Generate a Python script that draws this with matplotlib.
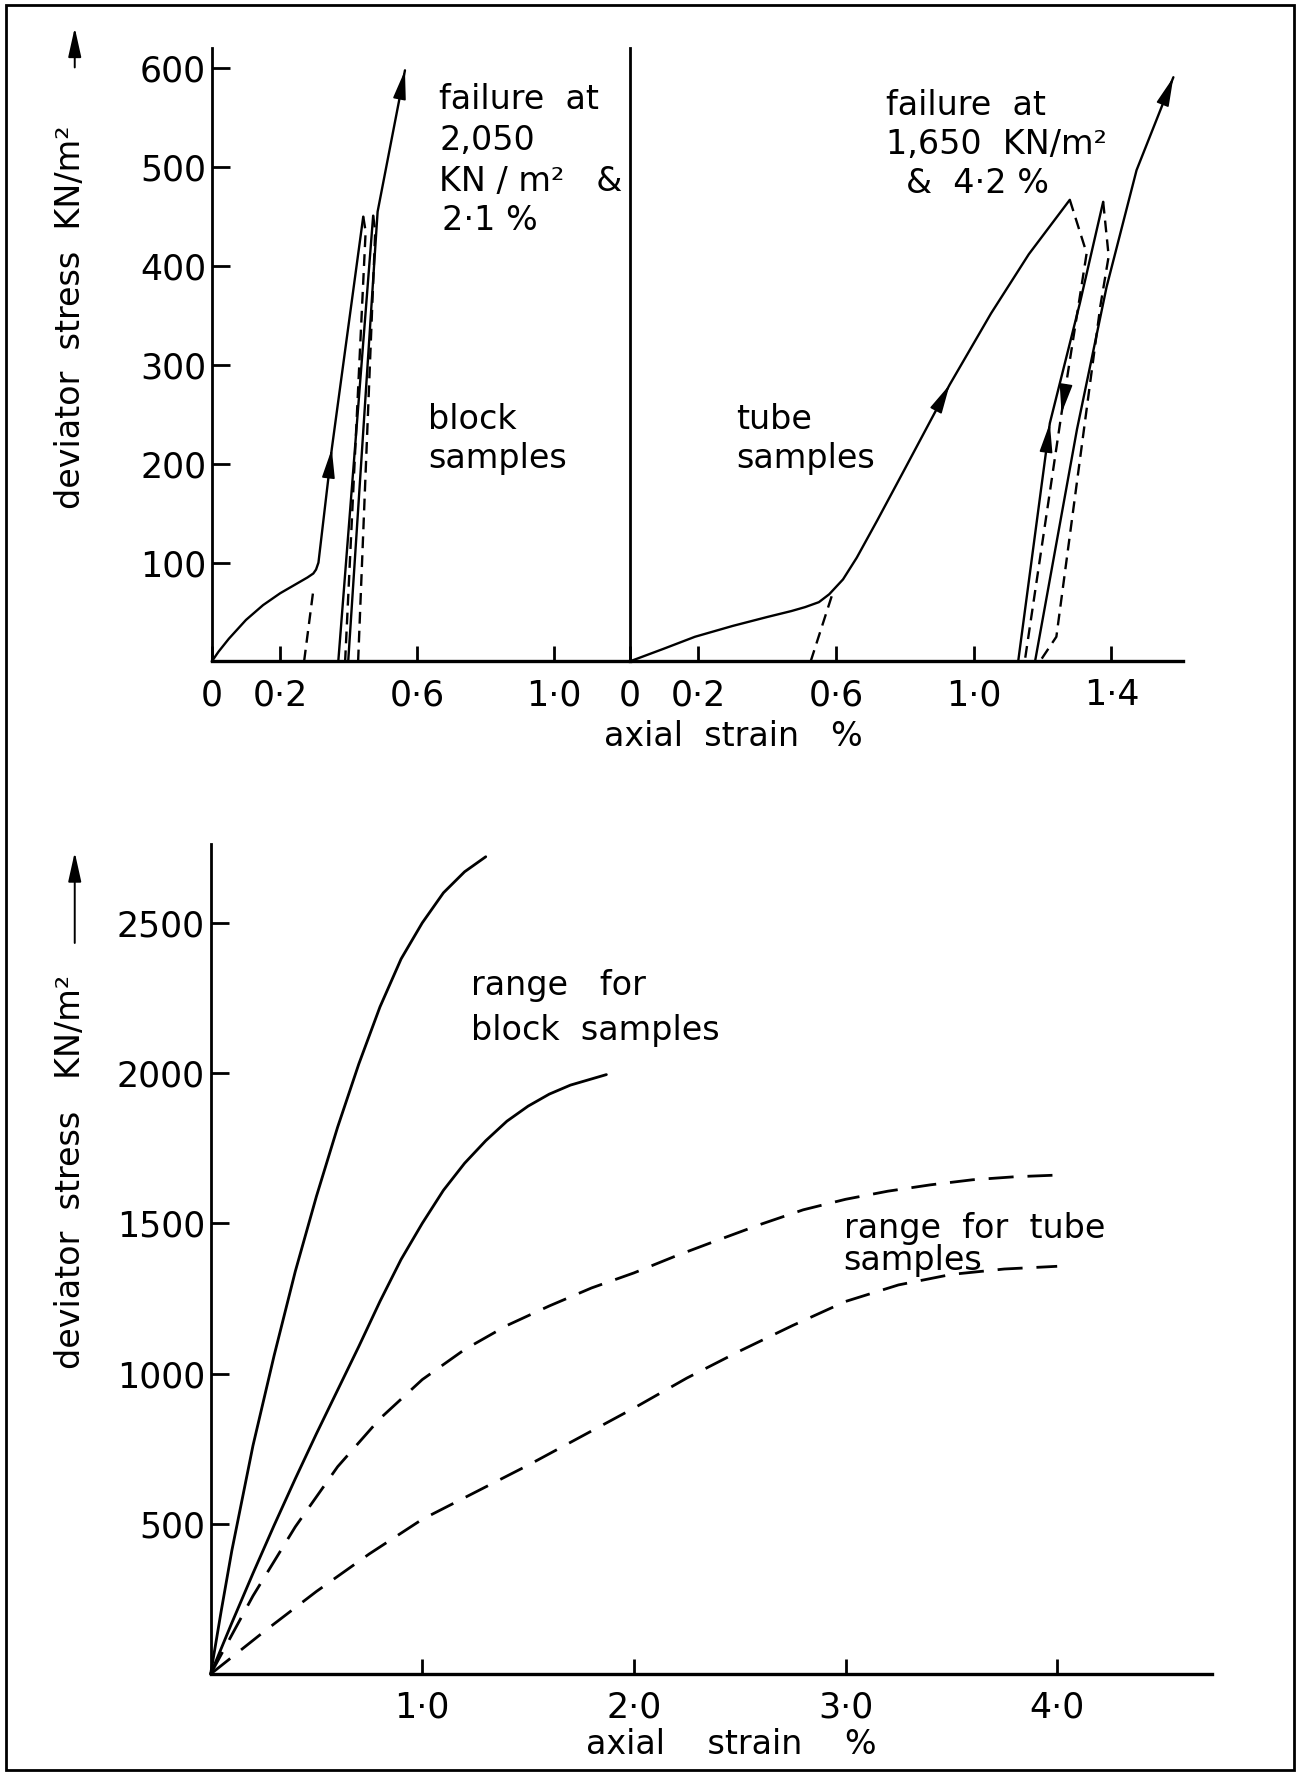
import matplotlib
matplotlib.use("Agg")
import matplotlib.pyplot as plt
from matplotlib.patches import Rectangle, FancyArrowPatch

plt.rcParams['font.family'] = ['DejaVu Sans']

# ---------------- data ----------------
# top-left panel: block samples (axial strain %, deviator stress kN/m2)
blk_load1_x = [0.0, 0.02, 0.05, 0.10, 0.15, 0.20, 0.25, 0.28, 0.297, 0.305, 0.312, 0.351, 0.443]
blk_load1_y = [0, 10, 23, 42, 57, 69, 79, 85, 89, 93, 100, 215, 450]
blk_ext_x = [0.270, 0.297]
blk_ext_y = [0, 72]
blk_unl1_x = [0.443, 0.450, 0.390]
blk_unl1_y = [450, 435, 0]
blk_load2_x = [0.370, 0.472]
blk_load2_y = [0, 451]
blk_unl2_x = [0.472, 0.478, 0.428]
blk_unl2_y = [451, 435, 0]
blk_load3_x = [0.399, 0.485, 0.565]
blk_load3_y = [0, 455, 598]

# top-right panel: tube samples
tube_load1_x = [0.0, 0.10, 0.19, 0.30, 0.40, 0.47, 0.51, 0.55, 0.58, 0.62, 0.66, 0.72, 0.80, 0.93, 1.05, 1.16, 1.279]
tube_load1_y = [0, 13, 25, 36, 45, 51, 55, 60, 68, 83, 105, 143, 195, 280, 352, 412, 467]
tube_ext_x = [0.526, 0.589]
tube_ext_y = [0, 68]
tube_unl1_x = [1.279, 1.328, 1.255, 1.148]
tube_unl1_y = [467, 413, 251, 0]
tube_load2_x = [1.129, 1.221, 1.308, 1.376]
tube_load2_y = [0, 241, 362, 465]
tube_unl2_x = [1.376, 1.392, 1.368, 1.240, 1.192]
tube_unl2_y = [465, 410, 360, 25, 0]
tube_load3_x = [1.178, 1.30, 1.386, 1.473, 1.58]
tube_load3_y = [0, 235, 379, 497, 591]

top_yticks = [100, 200, 300, 400, 500, 600]
left_xticks = [0, 0.2, 0.6, 1.0]
left_xlabels = ['0', '0·2', '0·6', '1·0']
right_xticks = [0, 0.2, 0.6, 1.0, 1.4]
right_xlabels = ['0', '0·2', '0·6', '1·0', '1·4']

# bottom panel: ranges
blk_upper_x = [0, 0.05, 0.1, 0.2, 0.3, 0.4, 0.5, 0.6, 0.7, 0.8, 0.9, 1.0, 1.1, 1.2, 1.3]
blk_upper_y = [0, 210, 410, 760, 1060, 1340, 1590, 1820, 2030, 2220, 2380, 2500, 2600, 2670, 2720]
blk_lower_x = [0, 0.1, 0.2, 0.3, 0.4, 0.5, 0.6, 0.7, 0.8, 0.9, 1.0, 1.1, 1.2, 1.3, 1.4, 1.5, 1.6, 1.7, 1.87]
blk_lower_y = [0, 170, 335, 495, 650, 800, 945, 1090, 1240, 1380, 1500, 1610, 1700, 1775, 1840, 1890, 1930, 1960, 1995]
tube_upper_x = [0, 0.2, 0.4, 0.6, 0.8, 1.0, 1.2, 1.4, 1.6, 1.8, 2.0, 2.2, 2.4, 2.6, 2.8, 3.0, 3.2, 3.4, 3.6, 3.8, 3.98]
tube_upper_y = [0, 260, 490, 690, 850, 980, 1080, 1160, 1225, 1285, 1335, 1392, 1445, 1497, 1545, 1580, 1607, 1628, 1645, 1655, 1660]
tube_lower_x = [0, 0.25, 0.5, 0.75, 1.0, 1.25, 1.5, 1.75, 2.0, 2.25, 2.5, 2.75, 3.0, 3.25, 3.5, 3.75, 4.0]
tube_lower_y = [0, 140, 275, 400, 515, 605, 695, 790, 885, 985, 1075, 1160, 1240, 1295, 1330, 1348, 1357]
bot_yticks = [500, 1000, 1500, 2000, 2500]
bot_xticks = [1, 2, 3, 4]
bot_xlabels = ['1·0', '2·0', '3·0', '4·0']

# ---------------- layout helpers ----------------
W, H = 1148, 1568
def F(x, y):
    return (x / W, 1 - y / H)
def box(l, r, t, b):
    return [l / W, 1 - b / H, (r - l) / W, (b - t) / H]

FS = 24
TFS = 25
LW = 1.7

fig = plt.figure(figsize=(13, 17.76), dpi=100)
fig.patch.set_facecolor('white')

ax1 = fig.add_axes(box(187, 556, 42, 584))
ax2 = fig.add_axes(box(556, 1045, 42, 584))
ax3 = fig.add_axes(box(186, 1070, 745, 1478))

for ax in (ax1, ax2, ax3):
    ax.set_facecolor('none')
    ax.spines['top'].set_visible(False)
    ax.spines['right'].set_visible(False)
    ax.spines['left'].set_linewidth(2.0)
    ax.spines['bottom'].set_linewidth(2.4)
    ax.tick_params(direction='in', width=2.0, labelsize=TFS, color='k')
    ax.tick_params(axis='x', length=11, pad=12)
    ax.tick_params(axis='y', length=13, pad=4)

ax1.set_xlim(0, 1.222)
ax1.set_ylim(0, 621)
ax2.set_xlim(0, 1.609)
ax2.set_ylim(0, 621)
ax3.set_xlim(0, 4.73)
ax3.set_ylim(0, 2763)

ax1.set_yticks(top_yticks)
ax1.set_xticks(left_xticks, left_xlabels)
ax2.set_yticks([])
ax2.set_xticks(right_xticks, right_xlabels)
ax3.set_yticks(bot_yticks)
ax3.set_xticks(bot_xticks, bot_xlabels)

def solid(ax, x, y, lw=LW):
    ax.plot(x, y, color='k', lw=lw, solid_capstyle='round', solid_joinstyle='round', clip_on=False)

def dashed(ax, x, y, lw=LW, dashes=(5, 3)):
    ax.plot(x, y, color='k', lw=lw, dashes=dashes, clip_on=False)

def arrow_at(ax, xs, ys, i):
    x0, y0 = xs[i - 1], ys[i - 1]
    x1, y1 = xs[i], ys[i]
    tail = (x1 - 0.05 * (x1 - x0), y1 - 0.05 * (y1 - y0))
    ax.annotate('', xy=(x1, y1), xytext=tail,
                arrowprops=dict(arrowstyle='-|>,head_length=0.9,head_width=0.2',
                                color='k', lw=1.2, mutation_scale=20,
                                shrinkA=0, shrinkB=0), annotation_clip=False)

# top-left curves
solid(ax1, blk_load1_x, blk_load1_y)
dashed(ax1, blk_ext_x, blk_ext_y)
dashed(ax1, blk_unl1_x, blk_unl1_y)
solid(ax1, blk_load2_x, blk_load2_y)
dashed(ax1, blk_unl2_x, blk_unl2_y)
solid(ax1, blk_load3_x, blk_load3_y)
arrow_at(ax1, blk_load1_x, blk_load1_y, 11)
arrow_at(ax1, blk_load3_x, blk_load3_y, 2)

# top-right curves
solid(ax2, tube_load1_x, tube_load1_y)
dashed(ax2, tube_ext_x, tube_ext_y)
dashed(ax2, tube_unl1_x, tube_unl1_y)
solid(ax2, tube_load2_x, tube_load2_y)
dashed(ax2, tube_unl2_x, tube_unl2_y)
solid(ax2, tube_load3_x, tube_load3_y)
arrow_at(ax2, tube_load1_x, tube_load1_y, 13)
arrow_at(ax2, tube_load2_x, tube_load2_y, 1)
arrow_at(ax2, tube_unl1_x, tube_unl1_y, 2)
arrow_at(ax2, tube_load3_x, tube_load3_y, 4)

# bottom curves
solid(ax3, blk_upper_x, blk_upper_y, lw=2.0)
solid(ax3, blk_lower_x, blk_lower_y, lw=2.0)
dashed(ax3, tube_upper_x, tube_upper_y, lw=2.0, dashes=(9, 5))
dashed(ax3, tube_lower_x, tube_lower_y, lw=2.0, dashes=(9, 5))

# ---------------- texts ----------------
def T(x, y, s, ha='left', **kw):
    fig.text(*F(x, y), s, ha=ha, va='center', fontsize=FS, **kw)

T(388, 88, 'failure  at')
T(388, 124, '2,050')
T(388, 160, 'KN / m²   &')
T(390, 195, '2·1 %')
T(378, 370, 'block')
T(378, 405, 'samples')

T(782, 93, 'failure  at')
T(782, 128, '1,650  KN/m²')
T(800, 162, '&  4·2 %')
T(650, 370, 'tube')
T(650, 405, 'samples')

T(648, 650, 'axial  strain   %', ha='center')

T(416, 870, 'range   for')
T(416, 910, 'block  samples')
T(745, 1085, 'range  for  tube')
T(745, 1113, 'samples')
T(646, 1540, 'axial    strain    %', ha='center')

# y labels with arrows
fig.text(*F(62, 280), 'deviator  stress  KN/m²', rotation=90, ha='center', va='center', fontsize=FS)
fig.text(*F(62, 1035), 'deviator  stress   KN/m²', rotation=90, ha='center', va='center', fontsize=FS)
for (y0, y1) in [(62, 22), (835, 750)]:
    fig.add_artist(FancyArrowPatch(
        F(66, y0), F(66, y1), transform=fig.transFigure,
        arrowstyle='-|>,head_length=0.9,head_width=0.2', mutation_scale=20,
        color='k', lw=1.4))

# page border
fig.add_artist(Rectangle(F(5, 1563), 1138 / W, 1559 / H, transform=fig.transFigure,
                         fill=False, lw=2.0, ec='k'))

fig.savefig('out.png', dpi=100, facecolor='white')
